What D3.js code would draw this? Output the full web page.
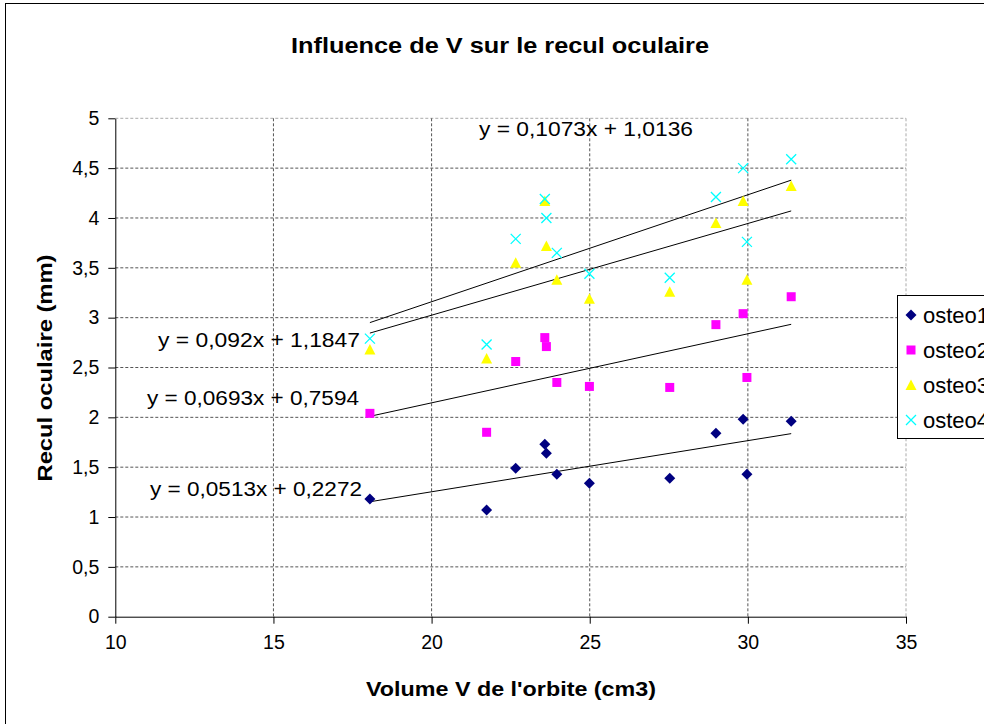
<!DOCTYPE html>
<html>
<head>
<meta charset="utf-8">
<script src="https://cdn.jsdelivr.net/npm/d3@7"></script>
<style>
  body { margin: 0; background: #fff; }
  text { font-family: "Liberation Sans", Arial, sans-serif; }
</style>
</head>
<body>
<div id="app"></div>
<script>
(function (d3) {

  'use strict'
  const w = 984
  const h = 724

  // volume de l'orbite (cm3), same for every series
  const volumes = [18.05, 21.74, 22.66, 23.58, 23.63, 23.96, 24.99, 27.53, 28.99, 29.85, 29.97, 31.37]
  const osteo1 = [1.18, 1.07, 1.49, 1.73, 1.64, 1.43, 1.34, 1.39, 1.84, 1.98, 1.43, 1.96]
  const osteo2 = [2.04, 1.85, 2.56, 2.80, 2.71, 2.35, 2.31, 2.30, 2.93, 3.04, 2.40, 3.21]
  const osteo3 = [2.68, 2.59, 3.55, 4.17, 3.72, 3.38, 3.19, 3.26, 3.95, 4.17, 3.38, 4.32]
  const osteo4 = [2.79, 2.73, 3.79, 4.19, 4.00, 3.65, 3.44, 3.40, 4.21, 4.50, 3.76, 4.59]

  const seriesNames = ['osteo1', 'osteo2', 'osteo3', 'osteo4']
  const slopes = [0.0513, 0.0693, 0.092, 0.1073]
  const intercepts = [0.2272, 0.7594, 1.1847, 1.0136]
  const equations = ['y = 0,0513x + 0,2272', 'y = 0,0693x + 0,7594', 'y = 0,092x + 1,1847', 'y = 0,1073x + 1,0136']

  const xTicks = [10, 15, 20, 25, 30, 35]
  const yTicks = [0, 0.5, 1, 1.5, 2, 2.5, 3, 3.5, 4, 4.5, 5]

  const colors = ['#000080', '#ff00ff', '#ffff00', '#00ffff']
  const symbols = ['diamond', 'square', 'triangle', 'cross']

  const series = [osteo1, osteo2, osteo3, osteo4].map((vals, i) => ({
    name: seriesNames[i],
    points: vals.map((v, j) => ({x: volumes[j], y: v}))
  }))

  const left = 115.3, right = 906, top = 118.3, bottom = 616.7

  const x = d3.scaleLinear().domain([10, 35]).range([left, right])
  const y = d3.scaleLinear().domain([0, 5]).range([bottom, top])

  const svg = d3.select('#app').append('svg')
    .attr('width', w)
    .attr('height', h)

  // chart frame
  svg.append('rect')
    .attr('x', 5.5).attr('y', 3.5)
    .attr('width', 1000).attr('height', 740)
    .attr('fill', '#fff').attr('stroke', '#000').attr('stroke-width', 1)

  svg.append('text')
    .attr('x', 500).attr('y', 53)
    .attr('text-anchor', 'middle')
    .attr('font-weight', 'bold').attr('font-size', 22)
    .attr('textLength', 418).attr('lengthAdjust', 'spacingAndGlyphs')
    .text('Influence  de V sur le recul oculaire')

  // grid
  const grid = svg.append('g')
  grid.selectAll('line.h')
    .data(yTicks.filter(t => t > 0))
    .enter().append('line')
    .attr('x1', left).attr('x2', right)
    .attr('y1', d => y(d)).attr('y2', d => y(d))
    .attr('stroke', d => d === 5 ? '#aaa' : '#555')
    .attr('stroke-dasharray', '3,2')
  grid.selectAll('line.v')
    .data(xTicks.filter(t => t > 10))
    .enter().append('line')
    .attr('y1', top).attr('y2', bottom)
    .attr('x1', d => x(d)).attr('x2', d => x(d))
    .attr('stroke', d => d === 35 ? '#aaa' : '#555')
    .attr('stroke-dasharray', '3,2')

  // axes
  const xAxis = svg.append('g')
    .attr('transform', 'translate(0,' + bottom + ')')
    .call(d3.axisBottom(x).tickValues(xTicks).tickSize(7).tickPadding(11).tickSizeOuter(0))
  const yAxis = svg.append('g')
    .attr('transform', 'translate(' + left + ',0)')
    .call(d3.axisLeft(y).tickValues(yTicks).tickSize(7).tickPadding(9).tickSizeOuter(0)
      .tickFormat(d => String(d).replace('.', ',')))
  ;[xAxis, yAxis].forEach(a => {
    a.select('.domain').attr('stroke', '#000')
    a.selectAll('text').attr('font-size', 19.5).attr('fill', '#000')
      .attr('font-family', '"Liberation Sans", Arial, sans-serif')
  })

  svg.append('text')
    .attr('x', 511).attr('y', 696)
    .attr('text-anchor', 'middle')
    .attr('font-weight', 'bold').attr('font-size', 20)
    .attr('textLength', 290).attr('lengthAdjust', 'spacingAndGlyphs')
    .text("Volume V de l'orbite (cm3)")

  svg.append('text')
    .attr('transform', 'translate(52,368) rotate(-90)')
    .attr('text-anchor', 'middle')
    .attr('font-weight', 'bold').attr('font-size', 20)
    .attr('textLength', 227).attr('lengthAdjust', 'spacingAndGlyphs')
    .text('Recul oculaire (mm)')

  // trend lines
  const xMin = d3.min(volumes), xMax = d3.max(volumes)
  svg.append('g').selectAll('line')
    .data(slopes)
    .enter().append('line')
    .attr('x1', x(xMin)).attr('x2', x(xMax))
    .attr('y1', (d, i) => y(d * xMin + intercepts[i]))
    .attr('y2', (d, i) => y(d * xMax + intercepts[i]))
    .attr('stroke', '#000').attr('stroke-width', 1)

  function marker (sel, type, color) {
    if (type === 'diamond') {
      sel.append('path').attr('d', 'M0,-5.5L5.5,0L0,5.5L-5.5,0Z').attr('fill', color)
    } else if (type === 'square') {
      sel.append('rect').attr('x', -4.5).attr('y', -4.5).attr('width', 9).attr('height', 9).attr('fill', color)
    } else if (type === 'triangle') {
      sel.append('path').attr('d', 'M0,-5.5L5.5,5L-5.5,5Z').attr('fill', color)
    } else {
      sel.append('path').attr('d', 'M-5,-5L5,5M-5,5L5,-5').attr('stroke', color).attr('stroke-width', 1.3).attr('fill', 'none')
    }
  }

  series.forEach((s, i) => {
    svg.append('g').selectAll('g')
      .data(s.points)
      .enter().append('g')
      .attr('transform', d => 'translate(' + x(d.x) + ',' + y(d.y) + ')')
      .each(function () { marker(d3.select(this), symbols[i], colors[i]) })
  })

  // equation labels (left end of text, baseline)
  const labelPos = [[150, 496], [147, 405], [158, 347], [479, 136]]
  const labelLen = [212, 212, 202, 214]
  svg.append('g').selectAll('text')
    .data(equations)
    .enter().append('text')
    .attr('x', (d, i) => labelPos[i][0])
    .attr('y', (d, i) => labelPos[i][1])
    .attr('font-size', 20)
    .attr('textLength', (d, i) => labelLen[i]).attr('lengthAdjust', 'spacingAndGlyphs')
    .text(d => d)

  // legend
  const legend = svg.append('g').attr('transform', 'translate(897,295)')
  legend.append('rect')
    .attr('x', 0.5).attr('y', 0.5).attr('width', 120).attr('height', 143)
    .attr('fill', '#fff').attr('stroke', '#000')
  seriesNames.forEach((name, i) => {
    const row = legend.append('g').attr('transform', 'translate(14,' + (20 + i * 35) + ')')
    marker(row, symbols[i], colors[i])
    row.append('text').attr('x', 12).attr('y', 8).attr('font-size', 22).text(name)
  })

}(d3))
</script>
</body>
</html>
